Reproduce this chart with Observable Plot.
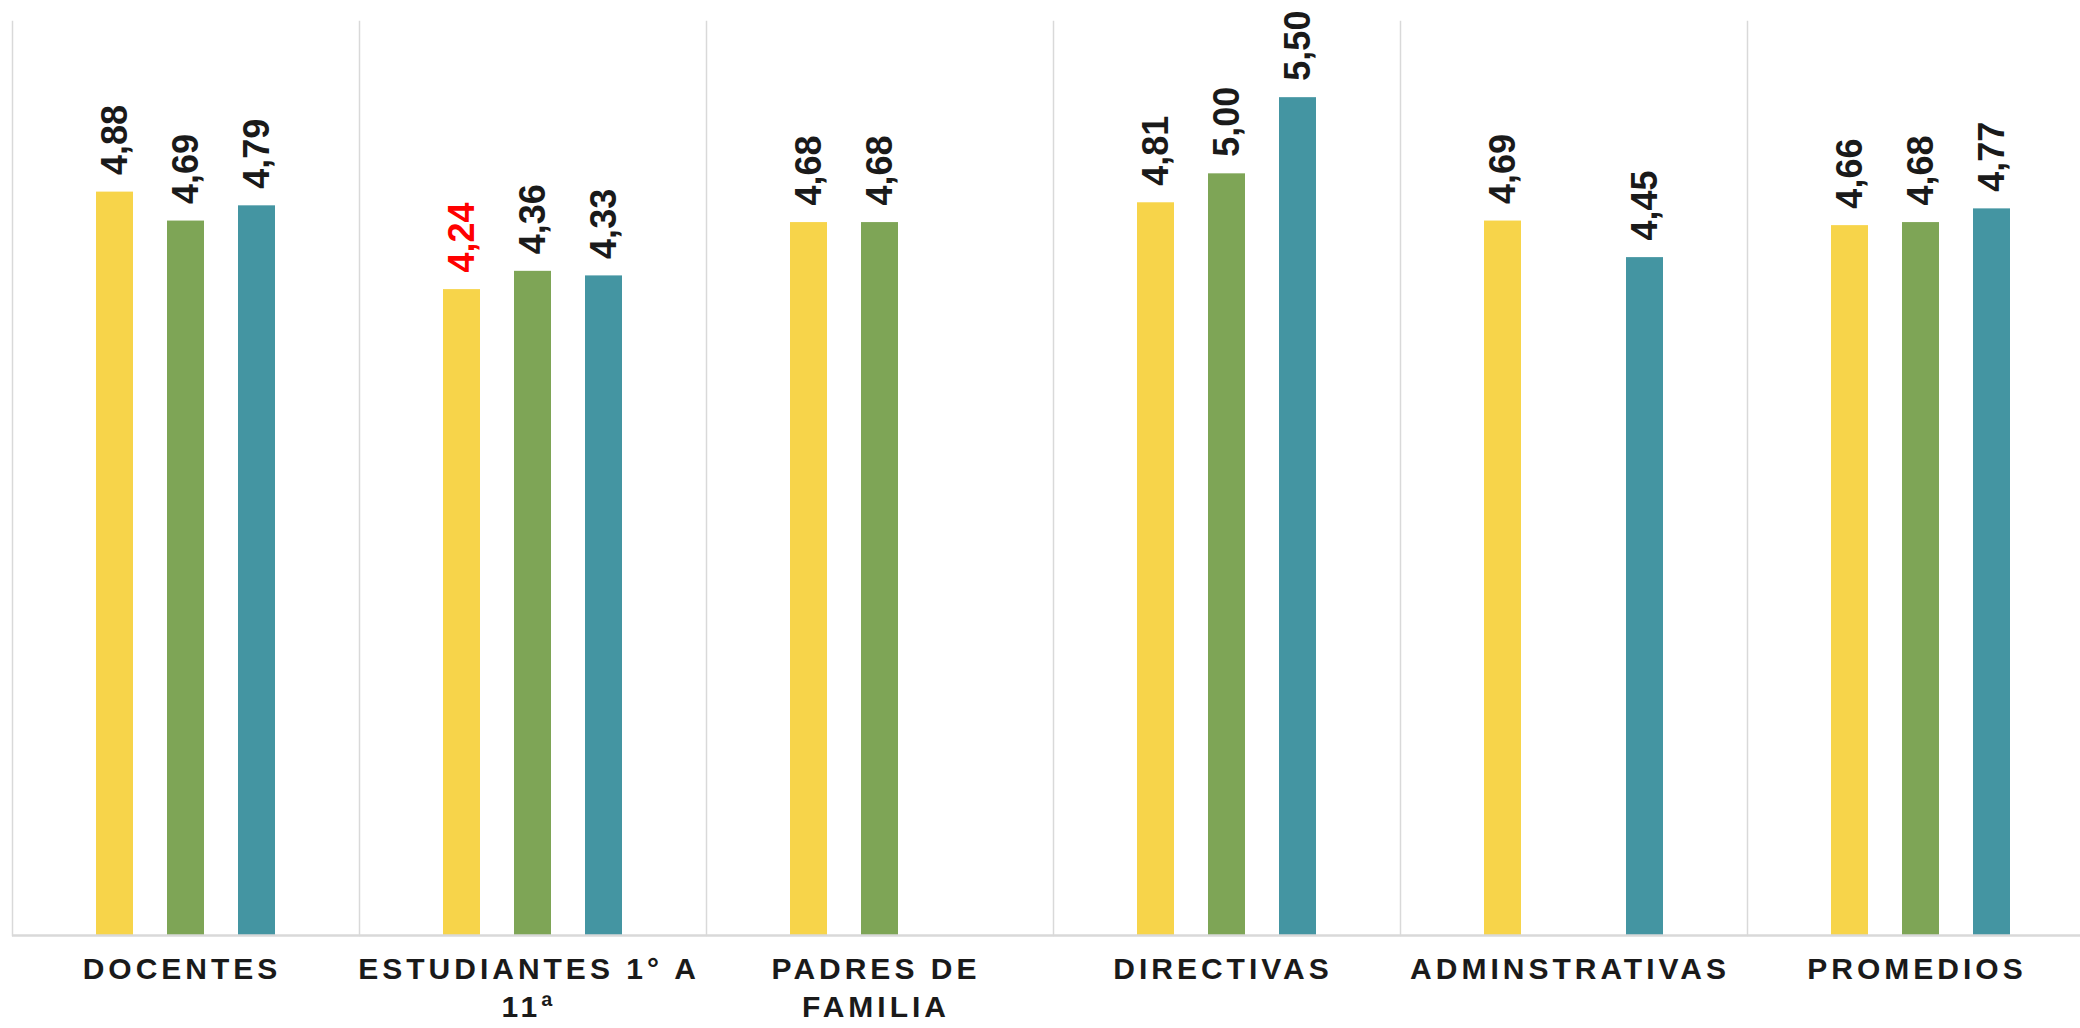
<!DOCTYPE html>
<html>
<head>
<meta charset="utf-8">
<script src="https://cdn.jsdelivr.net/npm/d3@7"></script>
<script src="https://cdn.jsdelivr.net/npm/@observablehq/plot@0.6"></script>
<style>
  html, body { margin: 0; padding: 0; background: #fff; overflow: hidden; }
  #chart { width: 2080px; height: 1028px; overflow: hidden; }
  #chart svg { max-width: none !important; }
</style>
</head>
<body>
<div id="chart"></div>
<script>
const categories = ["DOCENTES", "ESTUDIANTES 1° A 11ª", "PADRES DE FAMILIA", "DIRECTIVAS", "ADMINSTRATIVAS", "PROMEDIOS"];
const categoryLabels = ["DOCENTES", "ESTUDIANTES 1° A\n11ª", "PADRES DE\nFAMILIA", "DIRECTIVAS", "ADMINSTRATIVAS", "PROMEDIOS"];
const seriesNames = ["Serie 1", "Serie 2", "Serie 3"];
const seriesColors = ["#F7D44A", "#7EA556", "#4495A2"];
const serie1 = [4.88, 4.24, 4.68, 4.81, 4.69, 4.66];
const serie2 = [4.69, 4.36, 4.68, 5.00, null, 4.68];
const serie3 = [4.79, 4.33, null, 5.50, 4.45, 4.77];

const seriesValues = [serie1, serie2, serie3];
const data = [];
categories.forEach((c, i) => {
  seriesValues.forEach((vals, j) => {
    if (vals[i] != null) data.push({cat: c, series: seriesNames[j], value: vals[i]});
  });
});
const minValue = d3.min(data, d => d.value);
const fmt = v => v.toFixed(2).replace(".", ",");
const labelOf = new Map(categories.map((c, i) => [c, categoryLabels[i]]));

const plot = Plot.plot({
  width: 2094,
  height: 1028,
  marginTop: 21,
  marginBottom: 93,
  marginLeft: 12,
  marginRight: 0,
  style: {fontFamily: "'Liberation Sans', Arial, sans-serif", background: "#fff", maxWidth: "none"},
  fx: {domain: categories, padding: 0, axis: null},
  x: {domain: seriesNames, paddingInner: 0.4825, paddingOuter: 1.168, axis: null},
  y: {domain: [0, 6], axis: null},
  color: {domain: seriesNames, range: seriesColors},
  marks: [
    Plot.frame({anchor: "left", stroke: "#d9d9d9", strokeWidth: 1.5}),
    Plot.barY(data, {fx: "cat", x: "series", y: "value", fill: "series"}),
    Plot.ruleY([0], {stroke: "#d9d9d9", strokeWidth: 2.5}),
    Plot.text(data, {
      fx: "cat", x: "series", y: "value",
      text: d => fmt(d.value),
      rotate: -90, textAnchor: "start", lineAnchor: "middle",
      dy: -17, fontSize: 36, fontWeight: "bold",
      fill: d => d.value === minValue ? "#FF0000" : "#1a1a1a"
    }),
    Plot.text(categories, {
      fx: d => d,
      text: d => labelOf.get(d),
      frameAnchor: "bottom", lineAnchor: "top",
      dy: 16, dx: -4, fontSize: 30, fontWeight: "bold",
      lineHeight: 1.28, fill: "#1a1a1a"
    })
  ]
});

plot.style.maxWidth = "none";
plot.querySelectorAll('g[font-size="30"]').forEach(g => g.style.letterSpacing = "4px");
document.getElementById("chart").appendChild(plot);
</script>
</body>
</html>
